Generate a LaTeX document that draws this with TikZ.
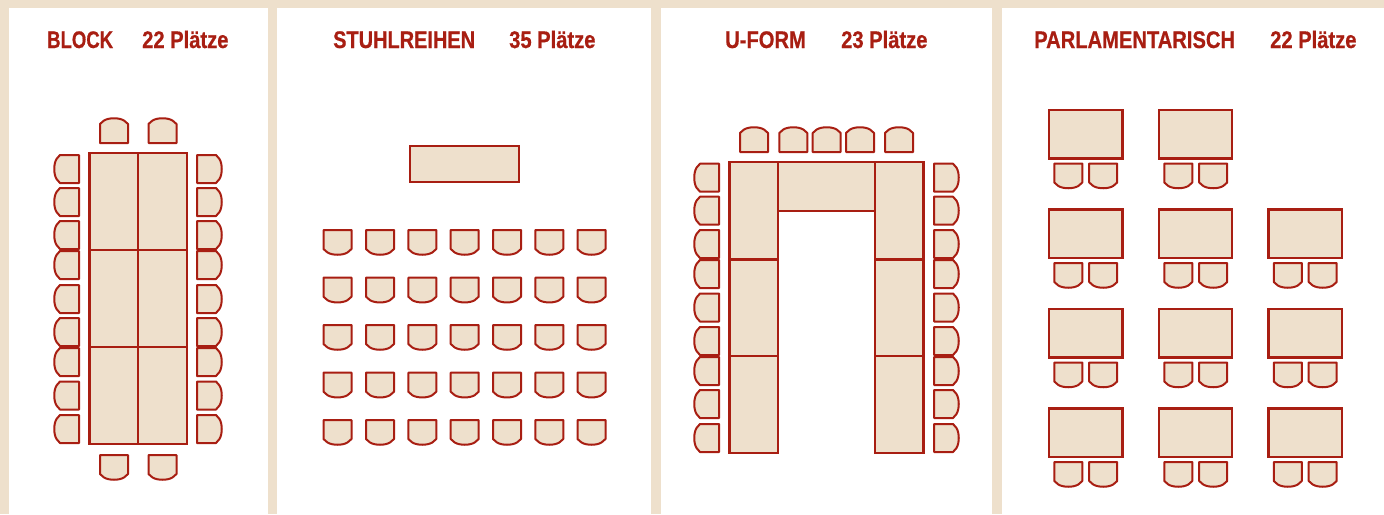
\documentclass[tikz,border=0pt]{standalone}
\usepackage{fontspec}
\newfontfamily\titlefont[BoldFont={Liberation Sans Bold},BoldFeatures={FakeStretch=0.84,FakeBold=0.6}]{Liberation Sans}
\definecolor{sand}{HTML}{EEE0CC}
\definecolor{darkred}{HTML}{A81E12}
\begin{document}
\begin{tikzpicture}[
        x=1pt, y=-1pt,
        panel/.style={fill=white, draw=none},
        desk/.style={draw=darkred, fill=sand, line width=2.1pt, line join=miter},
        seat/.style={draw=darkred, fill=sand, line width=2pt, line join=round},
        title/.style={anchor=base west, inner sep=0pt, text=darkred, font=\titlefont\bfseries\fontsize{24}{24}\selectfont},
        chair/.pic={
            \draw[seat] (-14,0) -- (14,0) -- (14,19) -- (10,22.5) .. controls (5,25.5) and (-5,25.5) .. (-10,22.5) -- (-14,19) -- cycle;
        },
    ]
        \fill[sand] (0,0) rectangle (1384,514);
        \useasboundingbox (0,0) rectangle (1384,514);

        % panels
        \fill[panel] (9,8) rectangle (268,514);
        \fill[panel] (277,8) rectangle (651,514);
        \fill[panel] (661,8) rectangle (992,514);
        \fill[panel] (1002,8) rectangle (1384,514);

        % titles
        \node[title, transform shape, xscale=.92] (blockname) at (47,48) {BLOCK};
        \node[title] (blockseats) at (142,48) {22 Plätze};
        \node[title, transform shape, xscale=.99] (rowsname) at (333,48) {STUHLREIHEN};
        \node[title] (rowsseats) at (509,48) {35 Plätze};
        \node[title] (uformname) at (725,48) {U-FORM};
        \node[title] (uformseats) at (841,48) {23 Plätze};
        \node[title] (parlname) at (1034,48) {PARLAMENTARISCH};
        \node[title] (parlseats) at (1270,48) {22 Plätze};

        % block
        \foreach \xa/\xb in {89.5/138, 138/187}
            \foreach \ya/\yb in {153/250, 250/347, 347/444}
                \draw[desk] (\xa,\ya) rectangle (\xb,\yb);
        \foreach \cx in {114,162.5} {
            \pic[rotate=180] at (\cx,143) {chair};
            \pic at (\cx,455) {chair};
        }
        \foreach \cy in {169,202,235,265,299,332,362,395.5,429} {
            \pic[rotate=-90] at (79,\cy) {chair};
            \pic[rotate=90] at (197,\cy) {chair};
        }

        % rows
        \draw[desk] (410,146) rectangle (519,182);
        \foreach \cy in {230,277.7,325,372.7,420}
            \foreach \cx in {337.5,380,422.3,464.7,507,549.3,591.5}
                \pic at (\cx,\cy) {chair};

        % u-form
        \foreach \xa/\xb in {729.5/778, 875/923.5}
            \foreach \ya/\yb in {162/259.5, 259.5/356, 356/453}
                \draw[desk] (\xa,\ya) rectangle (\xb,\yb);
        \draw[desk] (778,162) rectangle (875,211);
        \foreach \cx in {754,793.3,826.7,860,899}
            \pic[rotate=180] at (\cx,152) {chair};
        \foreach \cy in {177.7,210.7,244,274,307.5,341,371,404,438} {
            \pic[rotate=-90] at (719,\cy) {chair};
            \pic[rotate=90] at (934,\cy) {chair};
        }

        % parliament
        \foreach \xa/\xb/\row in {1049/1122.5/0, 1159/1232/0, 1049/1122.5/1, 1159/1232/1, 1268.5/1342/1, 1049/1122.5/2, 1159/1232/2, 1268.5/1342/2, 1049/1122.5/3, 1159/1232/3, 1268.5/1342/3} {
            \pgfmathsetmacro{\ya}{110+99.5*\row}
            \pgfmathsetmacro{\yb}{\ya+48.5}
            \pgfmathsetmacro{\yc}{\yb+5}
            \pgfmathsetmacro{\cl}{\xa+19.3}
            \pgfmathsetmacro{\cr}{\xa+54.2}
            \draw[desk] (\xa,\ya) rectangle (\xb,\yb);
            \pic at (\cl,\yc) {chair};
            \pic at (\cr,\yc) {chair};
        }
\end{tikzpicture}
\end{document}
